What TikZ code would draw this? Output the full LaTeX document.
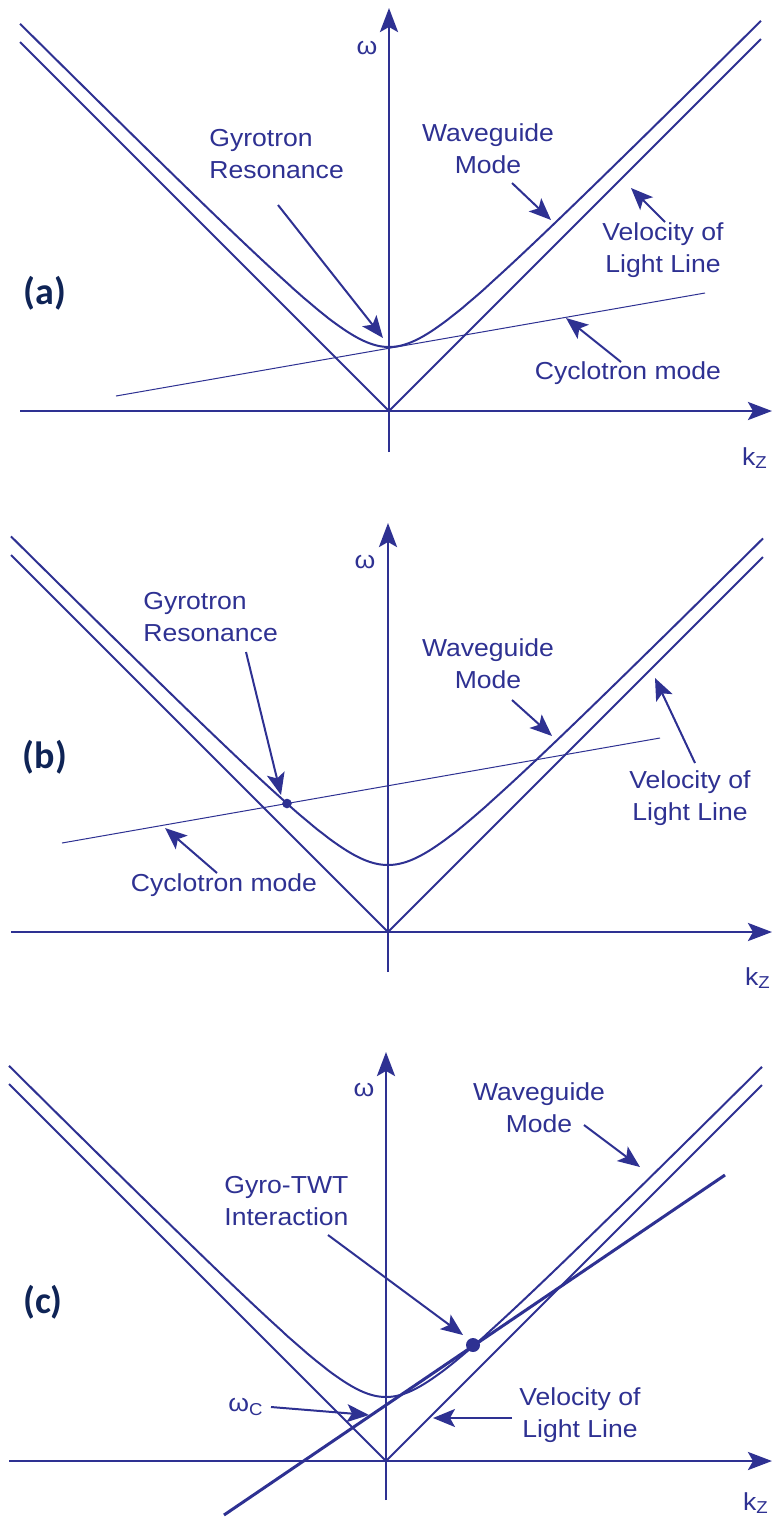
\documentclass[tikz,border=0pt]{standalone}
\usepackage{fontspec}
\setmainfont{Liberation Sans}[FakeStretch=1.08]
\newfontfamily\tagfont{Carlito}
\usetikzlibrary{arrows.meta}
\definecolor{lineblue}{HTML}{2E3192}
\definecolor{tagnavy}{HTML}{0F2456}
\tikzset{
  axis/.style={draw=lineblue,line width=1.4pt,-{Stealth[length=12pt,width=9pt,inset=2.5pt]}},
  light/.style={draw=lineblue,line width=1pt},
  wgmode/.style={draw=lineblue,line width=1pt,smooth,samples=150},
  cyclo/.style={draw=lineblue,line width=0.5pt},
  pointer/.style={draw=lineblue,line width=1pt,-{Stealth[length=11pt,width=9pt,inset=2.5pt]}},
  lbl/.style={text=lineblue,inner sep=0pt},
  tag/.style={text=tagnavy,inner sep=0pt,font=\tagfont\bfseries\fontsize{19}{21}\selectfont},
  dot/.style={fill=lineblue}
}
\begin{document}
\begin{tikzpicture}[x=0.5pt,y=-0.5pt,font=\fontsize{12.3}{16}\selectfont]
\useasboundingbox (0,0) rectangle (773,1517);

% (a) gyrotron
\begin{scope}[shift={(389,411)}]
\coordinate (a-o) at (0,0);
\coordinate (a-kl) at (-369,0); \coordinate (a-kr) at (383,0);
\coordinate (a-wb) at (0,41); \coordinate (a-wt) at (0,-403);
\draw[axis] (a-kl) -- (a-kr);
\draw[axis] (a-wb) -- (a-wt);
\node[lbl] (a-omega) at (-22,-363) {ω};
\node[lbl] (a-kz) at (366,47) {k\textsubscript{Z}};
\coordinate (a-ll) at (-369,-369); \coordinate (a-lr) at (372,-372);
\draw[light] (a-ll) -- (a-o) -- (a-lr);
\draw[wgmode] plot[domain=-369:372] (\x,{-(15+veclen(49,\x))});
\coordinate (a-c1) at (-273,-15); \coordinate (a-c2) at (316,-118);
\draw[cyclo] (a-c1) -- (a-c2);
\node[lbl,align=left,anchor=west] (a-gr) at (-180,-257) {Gyrotron\\Resonance};
\coordinate (a-grt) at (-111,-206); \coordinate (a-grh) at (-6,-73);
\draw[pointer] (a-grt) -- (a-grh);
\node[lbl,align=center] (a-wg) at (99,-262) {Waveguide\\Mode};
\coordinate (a-wgt) at (123,-228); \coordinate (a-wgh) at (162,-191);
\draw[pointer] (a-wgt) -- (a-wgh);
\node[lbl,align=center] (a-vl) at (274,-161) {Velocity of\\Light Line};
\coordinate (a-vlt) at (276,-189); \coordinate (a-vlh) at (242,-223);
\draw[pointer] (a-vlt) -- (a-vlh);
\node[lbl] (a-cm) at (239,-38) {Cyclotron mode};
\coordinate (a-cmt) at (232,-49); \coordinate (a-cmh) at (177,-93);
\draw[pointer] (a-cmt) -- (a-cmh);
\node[tag] (a-tag) at (-344,-118) {(a)};
\end{scope}

% (b) gyrotron, resonance on the backward side
\begin{scope}[shift={(388,932)}]
\coordinate (b-o) at (0,0);
\coordinate (b-kl) at (-377,0); \coordinate (b-kr) at (384,0);
\coordinate (b-wb) at (0,40); \coordinate (b-wt) at (0,-409);
\draw[axis] (b-kl) -- (b-kr);
\draw[axis] (b-wb) -- (b-wt);
\node[lbl] (b-omega) at (-23,-370) {ω};
\node[lbl] (b-kz) at (370,46) {k\textsubscript{Z}};
\coordinate (b-ll) at (-377,-377); \coordinate (b-lr) at (375,-375);
\draw[light] (b-ll) -- (b-o) -- (b-lr);
\draw[wgmode] plot[domain=-377:375] (\x,{-(15+veclen(52,\x))});
\coordinate (b-c1) at (-326,-89); \coordinate (b-c2) at (272,-194);
\draw[cyclo] (b-c1) -- (b-c2);
\coordinate (b-dot) at (-101,-128.5);
\fill[dot] (b-dot) circle (2.4pt);
\node[lbl,align=left,anchor=west] (b-gr) at (-245,-314.5) {Gyrotron\\Resonance};
\coordinate (b-grt) at (-142,-280); \coordinate (b-grh) at (-107,-137);
\draw[pointer] (b-grt) -- (b-grh);
\node[lbl,align=center] (b-wg) at (100,-268) {Waveguide\\Mode};
\coordinate (b-wgt) at (124,-232); \coordinate (b-wgh) at (164,-196);
\draw[pointer] (b-wgt) -- (b-wgh);
\node[lbl,align=center] (b-vl) at (302,-133.5) {Velocity of\\Light Line};
\coordinate (b-vlt) at (307,-169); \coordinate (b-vlh) at (267,-254);
\draw[pointer] (b-vlt) -- (b-vlh);
\node[lbl] (b-cm) at (-164,-47) {Cyclotron mode};
\coordinate (b-cmt) at (-171,-59); \coordinate (b-cmh) at (-223,-104);
\draw[pointer] (b-cmt) -- (b-cmh);
\node[tag] (b-tag) at (-343,-175) {(b)};
\end{scope}

% (c) gyro-TWT
\begin{scope}[shift={(386,1461)}]
\coordinate (c-o) at (0,0);
\coordinate (c-kl) at (-377,0); \coordinate (c-kr) at (386,0);
\coordinate (c-wb) at (0,39); \coordinate (c-wt) at (0,-409);
\draw[axis] (c-kl) -- (c-kr);
\draw[axis] (c-wb) -- (c-wt);
\node[lbl] (c-omega) at (-22,-371) {ω};
\node[lbl] (c-kz) at (370,42) {k\textsubscript{Z}};
\coordinate (c-ll) at (-377,-377); \coordinate (c-lr) at (376,-376);
\draw[light] (c-ll) -- (c-o) -- (c-lr);
\draw[wgmode] plot[domain=-377:376] (\x,{-(15+veclen(49,\x))});
\coordinate (c-c1) at (-162,54); \coordinate (c-c2) at (339,-286);
\draw[cyclo,line width=1.5pt] (c-c1) -- (c-c2);
\coordinate (c-dot) at (87,-116);
\fill[dot] (c-dot) circle (3.5pt);
\node[lbl,align=center] (c-wg) at (153,-353.5) {Waveguide\\Mode};
\coordinate (c-wgt) at (198,-336); \coordinate (c-wgh) at (254,-294);
\draw[pointer] (c-wgt) -- (c-wgh);
\node[lbl,align=left,anchor=west] (c-gt) at (-162,-259.5) {Gyro-TWT\\Interaction};
\coordinate (c-gtt) at (-58,-226); \coordinate (c-gth) at (77,-126);
\draw[pointer] (c-gtt) -- (c-gth);
\node[lbl] (c-wc) at (-140,-54) {ω\textsubscript{C}};
\coordinate (c-wct) at (-115,-54); \coordinate (c-wch) at (-17,-46);
\draw[pointer] (c-wct) -- (c-wch);
\node[lbl,align=center] (c-vl) at (194,-46) {Velocity of\\Light Line};
\coordinate (c-vlt) at (126,-43); \coordinate (c-vlh) at (47,-43);
\draw[pointer] (c-vlt) -- (c-vlh);
\node[tag] (c-tag) at (-343,-159) {(c)};
\end{scope}
\end{tikzpicture}
\end{document}
